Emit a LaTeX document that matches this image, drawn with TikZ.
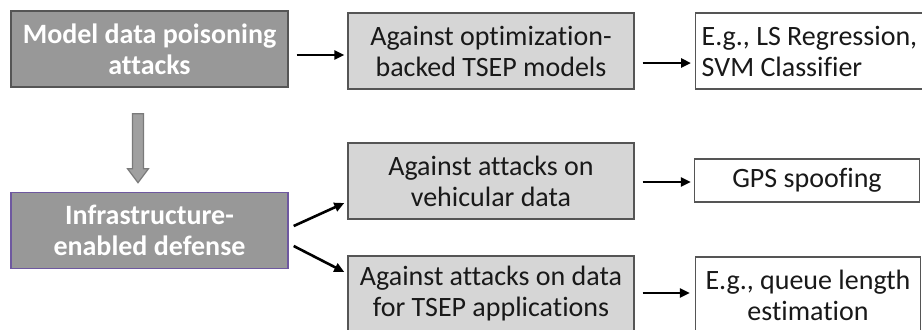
\documentclass[tikz,border=0pt]{standalone}
\usepackage{fontspec}
\setmainfont{Carlito}[Ligatures=NoCommon]
\usetikzlibrary{arrows.meta}
\definecolor{darkbox}{HTML}{989898}
\definecolor{lightbox}{HTML}{D6D6D6}
\definecolor{boxline}{HTML}{555555}
\definecolor{defline}{HTML}{6E58A0}
\definecolor{downfill}{HTML}{A0A0A0}
\definecolor{downline}{HTML}{7A7A7A}
\tikzset{
  base/.style={draw=boxline, line width=0.7pt, inner sep=3pt, align=center,
    font=\fontsize{14}{15.5}\selectfont, text=black!90},
  darkstage/.style={base, fill=darkbox, text=white, font=\fontsize{14}{15.5}\selectfont\bfseries,
    minimum width=138.5pt, minimum height=38pt},
  midstage/.style={base, fill=lightbox, minimum width=143pt, minimum height=38pt},
  example/.style={base, fill=white, minimum width=112.5pt},
  arr/.style={line width=1.3pt, -{Triangle[length=5pt,width=4.5pt]}}
}
\begin{document}
\begin{tikzpicture}[x=0.5pt,y=-0.5pt]
  \clip (0,0) rectangle (922,329);
  \useasboundingbox (0,0) rectangle (922,329);

  % left column
  \node[darkstage] (A) at (149.5,49) {Model data poisoning\\attacks};
  \node[darkstage, draw=defline] (D) at (149.5,230.5) {Infrastructure-\\enabled defense};

  % middle column
  \node[midstage] (B) at (491,51) {Against optimization-\\backed TSEP models};
  \node[midstage] (E) at (491,181) {Against attacks on\\vehicular data};
  \node[midstage] (F) at (491,294) {Against attacks on data\\for TSEP applications};

  % right column
  \node[example, minimum height=38pt, align=left, anchor=west] (C) at (695,51)
    {E.g., LS Regression,\\SVM Classifier};
  \node[example, minimum height=21.5pt] (G) at (807,180.5) {GPS spoofing};
  \node[example, minimum height=38pt] (H) at (808,295) {E.g., queue length\\estimation};

  % block arrow from A down to D
  \coordinate (dtop) at ([xshift=-5.75pt,yshift=-13pt]A.south);
  \draw[fill=downfill, draw=downline, line width=0.6pt, line join=miter]
    (dtop) ++(-5.5,0) -- ++(11,0) -- ++(0,55) -- ++(5,0) -- ++(-10.5,14)
    -- ++(-10.5,-14) -- ++(5,0) -- cycle;

  % connectors
  \draw[arr] ([xshift=4pt,yshift=-3pt]A.east) -- ([xshift=-1.5pt,yshift=-2pt]B.west);
  \draw[arr] ([xshift=4pt,yshift=-6pt]B.east) -- ([xshift=-2pt,yshift=-6pt]C.west);
  \draw[arr] ([xshift=2.5pt,yshift=2.25pt]D.east) -- ([xshift=-1.5pt,yshift=-11pt]E.west);
  \draw[arr] ([xshift=2.5pt,yshift=-7.75pt]D.east) -- ([xshift=-1.5pt,yshift=11pt]F.west);
  \draw[arr] ([xshift=4pt,yshift=-0.5pt]E.east) -- ([xshift=-1.5pt,yshift=-0.75pt]G.west);
  \draw[arr] ([xshift=4pt,yshift=0.5pt]F.east) -- ([xshift=-2.5pt,yshift=1pt]H.west);
\end{tikzpicture}
\end{document}
